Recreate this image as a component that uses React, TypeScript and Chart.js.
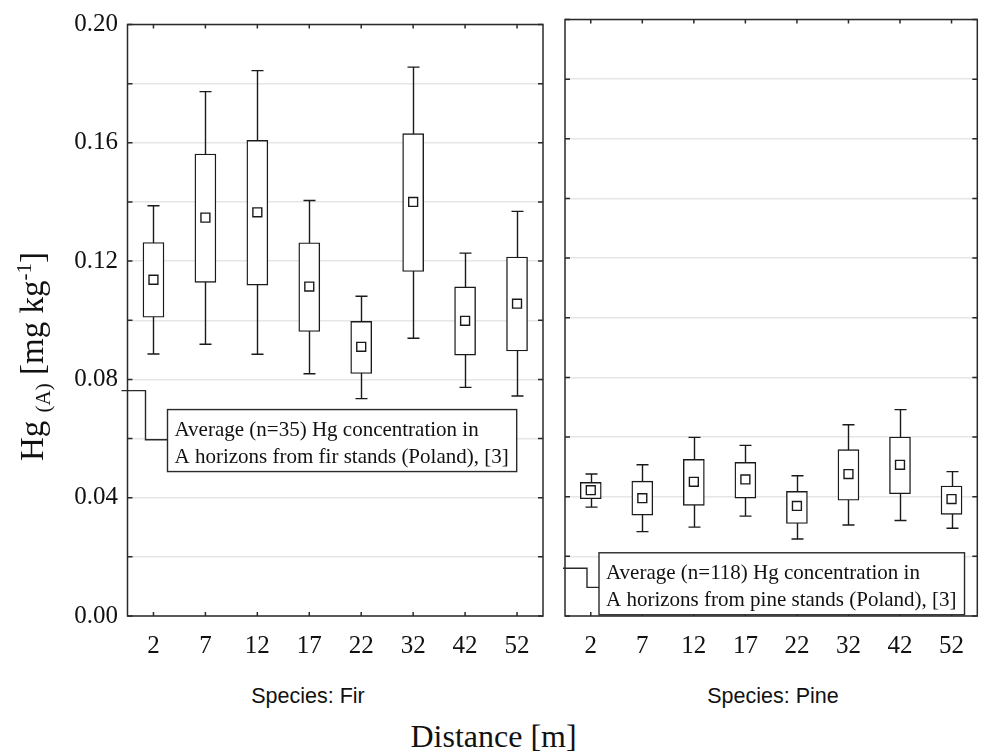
import React, { useEffect, useRef } from 'react';
import { Chart, registerables } from 'chart.js';

Chart.register(...registerables);

// ---------- data ----------
const distances = ['2', '7', '12', '17', '22', '32', '42', '52'];

const firWhiskerLow = [0.0886, 0.0919, 0.0885, 0.0819, 0.0735, 0.0939, 0.0773, 0.0744];
const firBoxLow = [0.101, 0.1128, 0.1119, 0.0962, 0.082, 0.1165, 0.0882, 0.0896];
const firMean = [0.1137, 0.1347, 0.1365, 0.1114, 0.091, 0.14, 0.0998, 0.1056];
const firBoxHigh = [0.1263, 0.1562, 0.1608, 0.1262, 0.0996, 0.1631, 0.1113, 0.1214];
const firWhiskerHigh = [0.1387, 0.1773, 0.1844, 0.1405, 0.1081, 0.1856, 0.1227, 0.1368];

const pineWhiskerLow = [0.0365, 0.0283, 0.0298, 0.0335, 0.0258, 0.0305, 0.032, 0.0294];
const pineBoxLow = [0.0393, 0.0338, 0.0371, 0.0395, 0.031, 0.0388, 0.041, 0.0341];
const pineMean = [0.0422, 0.0395, 0.045, 0.0458, 0.0369, 0.0476, 0.0507, 0.0392];
const pineBoxHigh = [0.0448, 0.0452, 0.0525, 0.0515, 0.0418, 0.0558, 0.06, 0.0436];
const pineWhiskerHigh = [0.0476, 0.0507, 0.0599, 0.0572, 0.047, 0.0641, 0.0692, 0.0484];

const yMin = 0;
const yMax = 0.2;
const yStep = 0.02;

const firAverage = 0.0762;
const pineAverage = 0.016;
const firNote = ['Average (n=35) Hg concentration in', 'A horizons from fir stands (Poland), [3]'];
const pineNote = ['Average (n=118) Hg concentration in', 'A horizons from pine stands (Poland), [3]'];

const SERIF = "'Liberation Serif', 'Times New Roman', serif";
const SANS = "'Liberation Sans', Arial, sans-serif";
const INK = '#1a1a1a';

// ---------- plugin: whiskers, frame, inner ticks, annotation ----------
const boxDecor = {
  id: 'boxDecor',
  beforeDatasetsDraw(chart: any, _args: any, opts: any) {
    const { ctx, scales } = chart;
    const x = scales.x;
    const y = scales.y;
    ctx.save();
    ctx.strokeStyle = INK;
    ctx.lineWidth = 1.4;
    opts.low.forEach((lo: number, i: number) => {
      const px = Math.round(x.getPixelForValue(i)) + 0.5;
      const yl = y.getPixelForValue(lo);
      const yh = y.getPixelForValue(opts.high[i]);
      ctx.beginPath();
      ctx.moveTo(px, yl);
      ctx.lineTo(px, yh);
      ctx.moveTo(px - 6, yl);
      ctx.lineTo(px + 6, yl);
      ctx.moveTo(px - 6, yh);
      ctx.lineTo(px + 6, yh);
      ctx.stroke();
    });
    ctx.restore();
  },
  afterDraw(chart: any, _args: any, opts: any) {
    const { ctx, chartArea: a, scales } = chart;
    const x = scales.x;
    const y = scales.y;
    ctx.save();
    ctx.strokeStyle = '#2a2a2a';
    ctx.lineWidth = 1.5;
    ctx.strokeRect(a.left, a.top, a.right - a.left, a.bottom - a.top);
    ctx.beginPath();
    y.ticks.forEach((_t: any, i: number) => {
      const py = y.getPixelForTick(i);
      ctx.moveTo(a.left, py);
      ctx.lineTo(a.left + 5, py);
      ctx.moveTo(a.right, py);
      ctx.lineTo(a.right - 5, py);
    });
    x.ticks.forEach((_t: any, i: number) => {
      const px = x.getPixelForTick(i);
      ctx.moveTo(px, a.top);
      ctx.lineTo(px, a.top + 4);
      ctx.moveTo(px, a.bottom);
      ctx.lineTo(px, a.bottom - 4);
    });
    ctx.stroke();

    // annotation
    const n = opts.note;
    const ay = y.getPixelForValue(n.avg);
    const jy = y.getPixelForValue(n.joint);
    const by = y.getPixelForValue(n.boxTop);
    const sx = a.left + n.startDx;
    const ex = a.left + n.elbowDx;
    const bx = a.left + n.boxDx;
    ctx.lineWidth = 1.4;
    ctx.beginPath();
    ctx.moveTo(sx, ay);
    ctx.lineTo(ex, ay);
    ctx.lineTo(ex, jy);
    ctx.lineTo(bx, jy);
    ctx.stroke();
    ctx.font = `21px ${SERIF}`;
    const w = Math.max(...n.lines.map((s: string) => ctx.measureText(s).width)) + 15;
    const h = 62;
    ctx.fillStyle = '#fff';
    ctx.fillRect(bx, by, w, h);
    ctx.strokeRect(bx, by, w, h);
    ctx.fillStyle = '#111';
    ctx.textBaseline = 'alphabetic';
    ctx.textAlign = 'left';
    ctx.fillText(n.lines[0], bx + 7, by + 26);
    ctx.fillText(n.lines[1], bx + 7, by + 53);
    ctx.restore();
  },
};

function makeConfig(spec: any) {
  return {
    type: 'bar',
    data: {
      labels: distances,
      datasets: [
        {
          type: 'line',
          data: spec.mean,
          showLine: false,
          pointStyle: 'rect',
          pointRadius: 6.3,
          pointHoverRadius: 6.3,
          pointBackgroundColor: '#fff',
          pointBorderColor: INK,
          pointBorderWidth: 1.4,
          order: 0,
        },
        {
          type: 'bar',
          data: spec.boxLow.map((lo: number, i: number) => [lo, spec.boxHigh[i]]),
          backgroundColor: '#fff',
          borderColor: INK,
          borderWidth: 1.4,
          borderSkipped: false,
          barThickness: 21,
          order: 1,
        },
      ],
    },
    options: {
      animation: false,
      responsive: false,
      events: [],
      layout: { padding: { top: 19.5, right: spec.padRight, left: 0, bottom: 0 } },
      plugins: {
        legend: { display: false },
        tooltip: { enabled: false },
        boxDecor: {
          low: spec.whiskerLow,
          high: spec.whiskerHigh,
          note: spec.note,
        },
      },
      scales: {
        x: {
          type: 'category',
          offset: true,
          grid: { display: false, drawTicks: false },
          border: { display: false },
          ticks: {
            color: '#111',
            font: { family: SERIF, size: 25 },
            padding: 15,
            maxRotation: 0,
            autoSkip: false,
          },
          afterFit: (s: any) => {
            s.height = 54;
          },
        },
        y: {
          min: yMin,
          max: yMax,
          grid: { color: '#e6e6e6', lineWidth: 1.5, drawTicks: false },
          border: { display: false },
          ticks: {
            display: spec.showY,
            stepSize: yStep,
            padding: 9.5,
            color: '#111',
            font: { family: SERIF, size: 25 },
            callback: (v: any) => (Math.round(Number(v) / yStep) % 2 === 0 ? Number(v).toFixed(2) : ''),
          },
          afterFit: (s: any) => {
            s.width = spec.yWidth;
          },
        },
      },
    },
    plugins: [boxDecor],
  };
}

export default function App() {
  const leftRef = useRef<HTMLCanvasElement | null>(null);
  const rightRef = useRef<HTMLCanvasElement | null>(null);

  useEffect(() => {
    const c1 = new Chart(
      leftRef.current as HTMLCanvasElement,
      makeConfig({
        mean: firMean,
        boxLow: firBoxLow,
        boxHigh: firBoxHigh,
        whiskerLow: firWhiskerLow,
        whiskerHigh: firWhiskerHigh,
        padRight: 9,
        yWidth: 127.5,
        showY: true,
        note: { avg: firAverage, joint: 0.0596, boxTop: 0.0698, startDx: -6, elbowDx: 18, boxDx: 40, lines: firNote },
      }) as any
    );
    const c2 = new Chart(
      rightRef.current as HTMLCanvasElement,
      makeConfig({
        mean: pineMean,
        boxLow: pineBoxLow,
        boxHigh: pineBoxHigh,
        whiskerLow: pineWhiskerLow,
        whiskerHigh: pineWhiskerHigh,
        padRight: 5,
        yWidth: 13,
        showY: false,
        note: { avg: pineAverage, joint: 0.0096, boxTop: 0.0212, startDx: -2, elbowDx: 22, boxDx: 34, lines: pineNote },
      }) as any
    );
    return () => {
      c1.destroy();
      c2.destroy();
    };
  }, []);

  return (
    <div style={{ position: 'fixed', left: 0, top: 0, width: 985, height: 756, background: '#fff', overflow: 'hidden' }}>
      <canvas ref={leftRef} width={552} height={670} style={{ position: 'absolute', left: 0, top: 0 }} />
      <canvas ref={rightRef} width={433} height={670} style={{ position: 'absolute', left: 552, top: 0 }} />
      <div
        style={{
          position: 'absolute',
          left: 13.6,
          top: 461,
          transformOrigin: 'left top',
          transform: 'rotate(-90deg)',
          whiteSpace: 'nowrap',
          fontFamily: SERIF,
          fontSize: 33,
          lineHeight: '37px',
          color: '#111',
        }}
      >
        Hg{' '}
        <span style={{ fontSize: 21, verticalAlign: -7, lineHeight: 0 }}>(A)</span> [mg kg
        <span style={{ fontSize: 21, verticalAlign: 12, lineHeight: 0 }}>-1</span>]
      </div>
      <div
        style={{
          position: 'absolute',
          left: 308,
          top: 683.8,
          transform: 'translateX(-50%)',
          whiteSpace: 'nowrap',
          fontFamily: SANS,
          fontSize: 21.5,
          lineHeight: '24px',
          color: '#111',
        }}
      >
        Species: Fir
      </div>
      <div
        style={{
          position: 'absolute',
          left: 773,
          top: 683.8,
          transform: 'translateX(-50%)',
          whiteSpace: 'nowrap',
          fontFamily: SANS,
          fontSize: 21.5,
          lineHeight: '24px',
          color: '#111',
        }}
      >
        Species: Pine
      </div>
      <div
        style={{
          position: 'absolute',
          left: 493.5,
          top: 717.9,
          transform: 'translateX(-50%)',
          whiteSpace: 'nowrap',
          fontFamily: SERIF,
          fontSize: 32,
          lineHeight: '36px',
          color: '#111',
        }}
      >
        Distance [m]
      </div>
    </div>
  );
}
